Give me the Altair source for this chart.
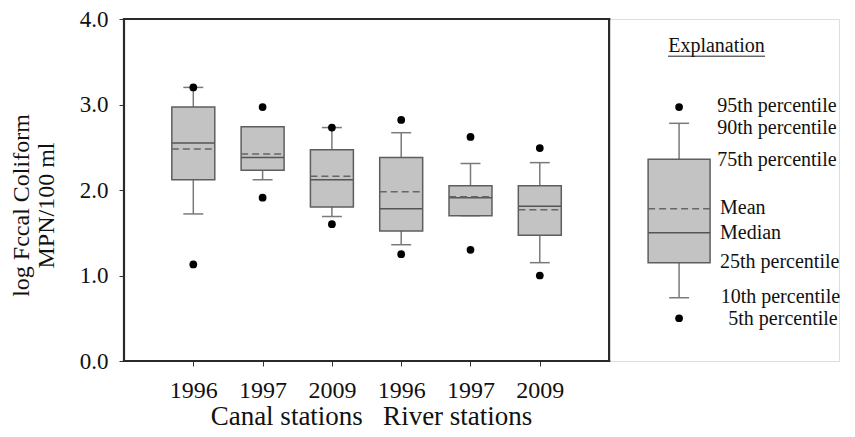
import json
import altair as alt
import pandas as pd

# ---- data ----
years = ["1996", "1997", "2009", "1996", "1997", "2009"]
groups = ["Canal", "Canal", "Canal", "River", "River", "River"]
slot = [1, 2, 3, 4, 5, 6]
p5 = [1.13, 1.91, 1.60, 1.25, 1.30, 1.00]
p10 = [1.72, 2.12, 1.69, 1.36, 1.70, 1.15]
p25 = [2.12, 2.23, 1.80, 1.52, 1.70, 1.47]
median = [2.55, 2.38, 2.12, 1.78, 1.91, 1.81]
mean = [2.48, 2.42, 2.16, 1.98, 1.92, 1.77]
p75 = [2.97, 2.74, 2.47, 2.38, 2.05, 2.05]
p90 = [3.20, 2.74, 2.73, 2.67, 2.31, 2.32]
p95 = [3.20, 2.97, 2.73, 2.82, 2.62, 2.49]
y_ticks = [0, 1, 2, 3, 4]
frame_x = [0, 7]
frame_y = [0, 4]

# explanation (key) example box
key_slot = [8.01]
key_p5 = [0.50]
key_p10 = [0.74]
key_p25 = [1.15]
key_median = [1.50]
key_mean = [1.78]
key_p75 = [2.36]
key_p90 = [2.78]
key_p95 = [2.97]
key_labels = ["95th percentile", "90th percentile", "75th percentile", "Mean",
              "Median", "25th percentile", "10th percentile", "5th percentile"]
key_label_y = [2.985, 2.725, 2.35, 1.79, 1.50, 1.16, 0.745, 0.49]
key_label_x = [8.56, 8.56, 8.56, 8.60, 8.60, 8.60, 8.61, 8.72]
key_title = ["Explanation"]
key_title_x = [8.55]
key_title_y = [3.61]
key_underline_x = [7.85, 9.25]
key_underline_y = [3.565]

FONT = "'Liberation Serif', 'Times New Roman', Times, serif"
BOX_HALF = 0.31
KEY_HALF = 0.447
CAP_HALF = 0.144

df = pd.DataFrame({"slot": slot, "year": years, "group": groups, "p5": p5, "p10": p10,
                   "p25": p25, "median": median, "mean": mean, "p75": p75,
                   "p90": p90, "p95": p95})
df["half"] = BOX_HALF
kdf = pd.DataFrame({"slot": key_slot, "p5": key_p5, "p10": key_p10, "p25": key_p25,
                    "median": key_median, "mean": key_mean, "p75": key_p75,
                    "p90": key_p90, "p95": key_p95})
kdf["half"] = KEY_HALF
both = pd.concat([df.drop(columns=["year", "group"]), kdf], ignore_index=True)

xs = alt.Scale(domain=[0, 715 / 69.3], nice=False, zero=False)
ys = alt.Scale(domain=[0, 4], nice=False, zero=False)

x_axis = alt.Axis(values=slot, labelExpr=json.dumps(years) + "[datum.value - 1]",
                  grid=False, domain=False, ticks=True, tickSize=5, tickColor="#333",
                  labelFont=FONT, labelFontSize=24, labelColor="#111",
                  labelBaseline="alphabetic", labelPadding=31, labelFlush=False,
                  labelOverlap=False, labelAlign="center",
                  title="Canal stations\u00a0\u00a0\u00a0River stations",
                  titleFont=FONT, titleFontSize=27, titleFontWeight="normal",
                  titleColor="#111", titleX=247, titleY=63, titleAlign="center",
                  titleBaseline="alphabetic")
y_axis = alt.Axis(values=y_ticks, format=".1f", grid=False, domain=False, ticks=True,
                  tickSize=5, tickColor="#333", labelFont=FONT, labelFontSize=23,
                  labelColor="#111", labelPadding=11,
                  title=["log Fccal Coliform", "MPN/100 ml"], titleFont=FONT,
                  titleFontSize=24, titleFontWeight="normal", titleColor="#111",
                  titleAngle=270, titleX=-96, titleY=186, titleAlign="center",
                  titleBaseline="alphabetic", titleLineHeight=25)


def X(field):
    return alt.X(field, type="quantitative", scale=xs, axis=x_axis)


def Y(field):
    return alt.Y(field, type="quantitative", scale=ys, axis=y_axis)


base = alt.Chart(both).transform_calculate(
    xl="datum.slot - datum.half", xr="datum.slot + datum.half",
    cl=f"datum.slot - {CAP_HALF}", cr=f"datum.slot + {CAP_HALF}")

whisk_lo = base.mark_rule(color="#7a7a7a", strokeWidth=1.5).encode(
    x=X("slot"), y=Y("p10"), y2="p25")
whisk_hi = base.mark_rule(color="#7a7a7a", strokeWidth=1.5).encode(
    x=X("slot"), y=Y("p75"), y2="p90")
cap_lo = base.mark_rule(color="#7a7a7a", strokeWidth=1.5).encode(
    x=X("cl"), x2="cr", y=Y("p10"))
cap_hi = base.mark_rule(color="#7a7a7a", strokeWidth=1.5).encode(
    x=X("cl"), x2="cr", y=Y("p90"))
box = base.mark_rect(fill="#c3c3c3", stroke="#5e5e5e", strokeWidth=1.5).encode(
    x=X("xl"), x2="xr", y=Y("p25"), y2="p75")
med = base.mark_rule(color="#555555", strokeWidth=1.5).encode(
    x=X("xl"), x2="xr", y=Y("median"))
mn = base.mark_rule(color="#666666", strokeWidth=1.5, strokeDash=[7, 4]).encode(
    x=X("xl"), x2="xr", y=Y("mean"))
dots_hi = base.mark_circle(color="#000", opacity=1, size=60).encode(
    x=X("slot"), y=Y("p95"))
dots_lo = base.mark_circle(color="#000", opacity=1, size=60).encode(
    x=X("slot"), y=Y("p5"))

frame_df = pd.DataFrame({
    "x": [frame_x[0], frame_x[0], frame_x[0], frame_x[1]],
    "x2": [frame_x[1], frame_x[1], frame_x[0], frame_x[1]],
    "y": [frame_y[0], frame_y[1], frame_y[0], frame_y[0]],
    "y2": [frame_y[0], frame_y[1], frame_y[1], frame_y[1]],
})
frame = alt.Chart(frame_df).mark_rule(color="#2a2a2a", strokeWidth=2.2,
                                      strokeCap="square").encode(
    x=X("x"), x2="x2", y=Y("y"), y2="y2")

lab_df = pd.DataFrame({"label": key_labels, "x": key_label_x, "y": key_label_y})
labels = alt.Chart(lab_df).mark_text(align="left", baseline="middle", font=FONT,
                                     fontSize=20, color="#111").encode(
    x=X("x"), y=Y("y"), text="label")

title_df = pd.DataFrame({"t": key_title, "x": key_title_x, "y": key_title_y})
key_title_mark = alt.Chart(title_df).mark_text(align="center", baseline="alphabetic",
                                               font=FONT, fontSize=20,
                                               color="#111").encode(
    x=X("x"), y=Y("y"), text="t")
ul_df = pd.DataFrame({"x": [key_underline_x[0]], "x2": [key_underline_x[1]],
                      "y": key_underline_y})
underline = alt.Chart(ul_df).mark_rule(color="#222", strokeWidth=1).encode(
    x=X("x"), x2="x2", y=Y("y"))

chart = alt.layer(
    frame, whisk_lo, whisk_hi, cap_lo, cap_hi, box, med, mn, dots_hi, dots_lo,
    labels, key_title_mark, underline
).properties(
    width=715, height=342,
    autosize=alt.AutoSizeParams(type="none"),
    padding={"left": 116, "top": 11, "right": 8, "bottom": 68},
    background="white",
).configure_view(stroke=None).configure(font=FONT)

chart.save("out.html", embed_options={"renderer": "svg", "actions": False})
